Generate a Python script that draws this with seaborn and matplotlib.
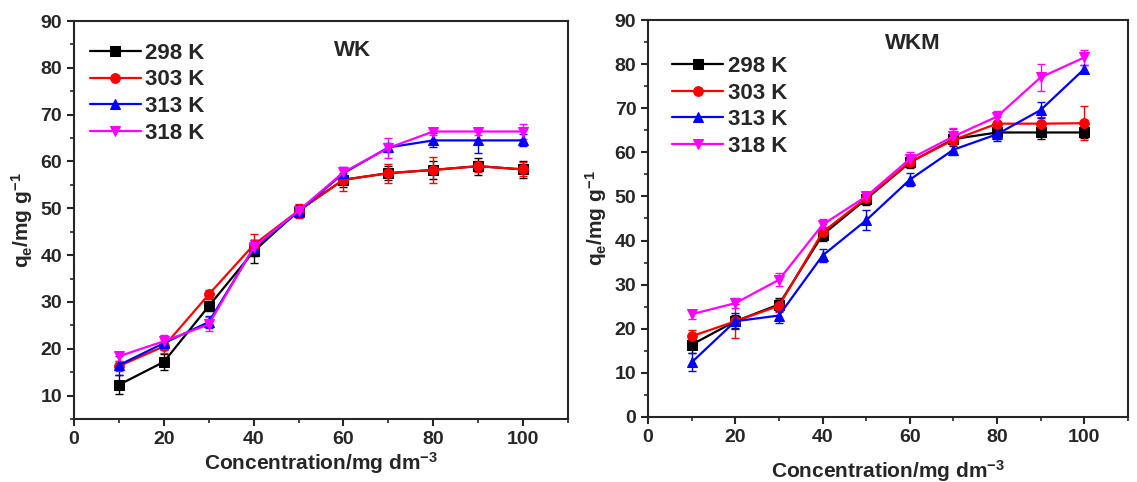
import numpy as np
import pandas as pd
import matplotlib
matplotlib.use("Agg")
import matplotlib.pyplot as plt
import seaborn as sns
from matplotlib.ticker import MultipleLocator

sns.set_style("ticks")
plt.rcParams['font.family'] = ['Liberation Sans', 'DejaVu Sans']
plt.rcParams['font.weight'] = 'bold'
plt.rcParams['mathtext.fontset'] = 'custom'
plt.rcParams['mathtext.rm'] = 'Liberation Sans:bold'
plt.rcParams['mathtext.it'] = 'Liberation Sans:bold'
plt.rcParams['mathtext.bf'] = 'Liberation Sans:bold'

conc = [10, 20, 30, 40, 50, 60, 70, 80, 90, 100]
temps = ["298 K", "303 K", "313 K", "318 K"]

wk_298 = [12.3, 17.2, 29.1, 40.8, 49.5, 56.1, 57.5, 58.2, 59.0, 58.3]
wk_303 = [16.3, 20.5, 31.6, 42.2, 49.5, 56.1, 57.5, 58.2, 59.0, 58.3]
wk_313 = [16.5, 21.2, 25.7, 41.5, 49.3, 57.5, 63.0, 64.5, 64.5, 64.5]
wk_318 = [18.4, 21.6, 25.2, 41.7, 49.5, 57.7, 62.9, 66.4, 66.4, 66.4]
wk_err_298 = [2.0, 1.7, 1.0, 2.5, 1.2, 1.5, 1.5, 2.0, 1.8, 1.8]
wk_err_303 = [1.0, 1.5, 1.0, 2.3, 1.5, 2.4, 2.0, 2.8, 1.2, 1.5]
wk_err_313 = [2.0, 1.5, 1.3, 1.7, 1.0, 1.3, 1.0, 1.5, 2.7, 1.3]
wk_err_318 = [1.0, 1.3, 1.5, 1.5, 1.0, 1.2, 2.2, 0.8, 0.8, 1.7]

wkm_298 = [16.4, 21.7, 25.5, 41.3, 49.4, 57.7, 63.0, 64.5, 64.5, 64.5]
wkm_303 = [18.3, 21.7, 25.2, 41.9, 49.6, 57.8, 62.8, 66.5, 66.5, 66.6]
wkm_313 = [12.4, 21.7, 23.0, 36.6, 44.6, 53.8, 60.6, 64.1, 69.6, 78.9]
wkm_318 = [23.3, 25.8, 31.1, 43.6, 50.0, 58.5, 63.6, 68.1, 77.0, 81.5]
wkm_err_298 = [2.0, 1.5, 1.5, 1.5, 1.3, 1.3, 1.5, 1.5, 1.5, 1.3]
wkm_err_303 = [1.5, 3.9, 1.5, 1.2, 1.2, 1.2, 2.5, 1.5, 1.5, 3.8]
wkm_err_313 = [2.0, 1.8, 1.8, 1.5, 2.3, 1.5, 1.3, 1.5, 1.8, 1.0]
wkm_err_318 = [1.0, 1.2, 1.5, 1.2, 1.0, 1.5, 2.0, 1.2, 3.0, 1.7]

colors = ["black", "red", "blue", "magenta"]
markers = ["s", "o", "^", "v"]

fig = plt.figure(figsize=(11.37, 4.82), dpi=100)
ax1 = fig.add_axes([0.0651, 0.1307, 0.4345, 0.8257])
ax2 = fig.add_axes([0.570, 0.1349, 0.422, 0.8236])

panels = [
    (ax1, [wk_298, wk_303, wk_313, wk_318], [wk_err_298, wk_err_303, wk_err_313, wk_err_318],
     "WK", (5, 90), (0.563, 0.927), (0.032, 0.945), 2),
    (ax2, [wkm_298, wkm_303, wkm_313, wkm_318], [wkm_err_298, wkm_err_303, wkm_err_313, wkm_err_318],
     "WKM", (0, 90), (0.552, 0.942), (0.05, 0.909), 9),
]

for ax, series, errs, title, ylim, tpos, lpos, xpad in panels:
    for t, vals, err, c, m in zip(temps, series, errs, colors, markers):
        ax.errorbar(conc, vals, yerr=err, fmt='none', ecolor=c, elinewidth=1.0,
                    capsize=3, capthick=1.0, zorder=2)
        df = pd.DataFrame({"x": conc, "y": vals})
        sns.lineplot(data=df, x="x", y="y", ax=ax, color=c, marker=m,
                     markersize=7, markeredgecolor=c, linewidth=1.6, label=t, zorder=3)
    ax.set_xlim(0, 110)
    ax.set_ylim(*ylim)
    ax.xaxis.set_major_locator(MultipleLocator(20))
    ax.xaxis.set_minor_locator(MultipleLocator(10))
    ax.yaxis.set_major_locator(MultipleLocator(10))
    ax.yaxis.set_minor_locator(MultipleLocator(5))
    ax.tick_params(which='major', direction='out', length=5, width=1.5, labelsize=14)
    ax.tick_params(which='minor', direction='out', length=3, width=1.2)
    for lab in ax.get_xticklabels() + ax.get_yticklabels():
        lab.set_fontweight('bold')
    for sp in ax.spines.values():
        sp.set_linewidth(1.5)
        sp.set_visible(True)
    ax.set_xlabel("Concentration/mg dm$^{-3}$", fontsize=15, fontweight='bold', labelpad=xpad)
    ax.set_ylabel("q$_e$/mg g$^{-1}$", fontsize=15, fontweight='bold', labelpad=4)
    ax.text(tpos[0], tpos[1], title, transform=ax.transAxes,
            fontsize=16, fontweight='bold', ha='center', va='center')
    ax.legend(loc='upper left', bbox_to_anchor=lpos, frameon=False, handlelength=2.3,
              handletextpad=0.2, labelspacing=0.25, borderaxespad=0, borderpad=0,
              markerscale=1.0, prop={'weight': 'bold', 'size': 16})

ax1.set_ylim(5, 90)
ax1.set_yticks(range(10, 91, 10))
ax1.yaxis.set_minor_locator(MultipleLocator(5))

fig.savefig("out.png", dpi=100)
